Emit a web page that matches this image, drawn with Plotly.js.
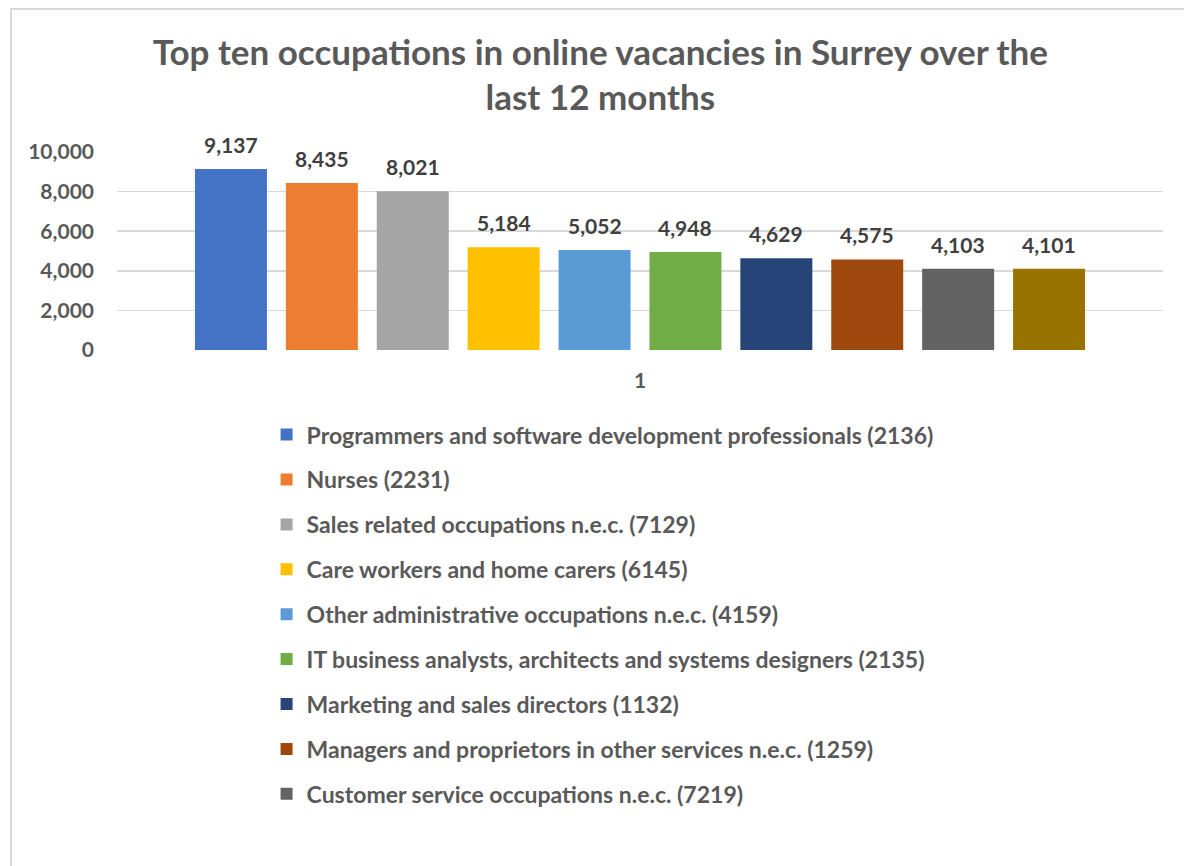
<!DOCTYPE html>
<html>
<head>
<meta charset="utf-8">
<script src="https://cdn.plot.ly/plotly-3.0.1.min.js"></script>
<style>
  html, body { margin: 0; padding: 0; background: #ffffff; }
  #chart { position: absolute; left: 0; top: 0; width: 1184px; height: 866px; }
  #frame { position: absolute; left: 10px; top: 8px; width: 1200px; height: 900px;
           border-left: 2px solid #d9d9d9; border-top: 2px solid #d9d9d9; pointer-events: none; }
</style>
</head>
<body>
<div id="chart"></div>
<div id="frame"></div>
<script>
const category = ["1"];
const occupations = [
  "Programmers and software development professionals (2136)",
  "Nurses (2231)",
  "Sales related occupations n.e.c. (7129)",
  "Care workers and home carers (6145)",
  "Other administrative occupations n.e.c. (4159)",
  "IT business analysts, architects and systems designers (2135)",
  "Marketing and sales directors (1132)",
  "Managers and proprietors in other services n.e.c. (1259)",
  "Customer service occupations n.e.c. (7219)",
  "Tenth occupation"
];
const vacancies = [9137, 8435, 8021, 5184, 5052, 4948, 4629, 4575, 4103, 4101];
const colors = ["#4472C4", "#ED7D31", "#A5A5A5", "#FFC000", "#5B9BD5",
                "#70AD47", "#264478", "#9E480E", "#636363", "#997300"];
const inLegend = [true, true, true, true, true, true, true, true, true, false];
const yTicks = [0, 2000, 4000, 6000, 8000, 10000];
const yTickText = ["0", "2,000", "4,000", "6,000", "8,000", "10,000"];

const FONT = "Lato, 'Open Sans', sans-serif";
const BARGAP = 0.131;
const nSeries = vacancies.length;
const slot = (1 - BARGAP) / nSeries;

const traces = occupations.map((name, i) => ({
  type: "bar",
  name: name,
  x: category,
  y: [vacancies[i]],
  marker: { color: colors[i] },
  showlegend: inLegend[i],
  legendgroup: "g" + i,
  hoverinfo: "name+y"
}));

// data labels above each bar, positioned from the series index on the category axis
const labels = vacancies.map((v, i) => ({
  xref: "x", yref: "y",
  x: (i - (nSeries - 1) / 2) * slot,
  y: v,
  text: "<b>" + v.toLocaleString("en-US") + "</b>",
  showarrow: false,
  xanchor: "center", yanchor: "bottom",
  yshift: 10,
  font: { family: FONT, size: 21, color: "#404040" }
}));

const layout = {
  width: 1184,
  height: 866,
  paper_bgcolor: "#ffffff",
  plot_bgcolor: "#ffffff",
  font: { family: FONT, color: "#595959" },
  title: {
    text: "<b>Top ten occupations in online vacancies in Surrey over the<br>last 12 months</b>",
    font: { family: FONT, size: 35, color: "#595959" },
    xref: "container", x: 0.507, xanchor: "center",
    yref: "container", y: 0.925, yanchor: "top"
  },
  margin: { l: 117, r: 21, t: 152, b: 516, autoexpand: false },
  barmode: "group",
  bargap: BARGAP,
  bargroupgap: 0.208,
  xaxis: {
    type: "category",
    showgrid: false,
    showline: false,
    ticks: "",
    tickfont: { family: FONT, size: 21, color: "#595959", weight: "bold" },
    ticklabelstandoff: 16
  },
  yaxis: {
    range: [0, 10000],
    tickvals: yTicks,
    ticktext: yTickText,
    showgrid: true,
    gridcolor: "#d9d9d9",
    gridwidth: 1.5,
    zeroline: false,
    showline: false,
    ticks: "",
    tickfont: { family: FONT, size: 21, color: "#595959", weight: "bold" },
    ticklabelstandoff: 22
  },
  annotations: labels,
  showlegend: true,
  legend: {
    xref: "paper", yref: "paper",
    x: 0.143, xanchor: "left",
    y: -0.319, yanchor: "top",
    traceorder: "grouped",
    tracegroupgap: 12,
    font: { family: FONT, size: 23, color: "#595959", weight: "bold" },
    itemwidth: 30,
    bgcolor: "rgba(0,0,0,0)"
  }
};

Plotly.newPlot("chart", traces, layout, { displayModeBar: false, staticPlot: true });
</script>
</body>
</html>
